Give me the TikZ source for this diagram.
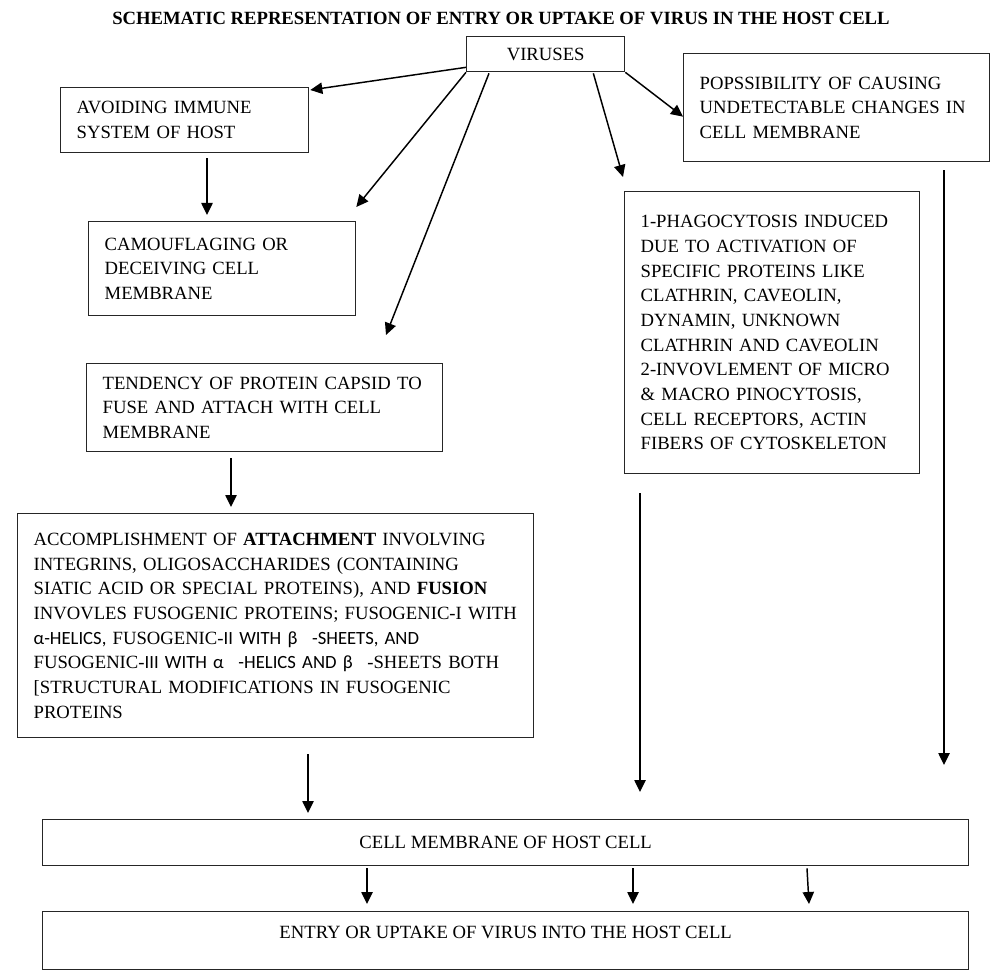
\documentclass[tikz,border=0pt]{standalone}
\usepackage{fontspec}
\setmainfont{Liberation Serif}
\newfontfamily\calfont{Carlito}
\usetikzlibrary{arrows.meta,calc}

\begin{document}
\begin{tikzpicture}
    [x=0.75pt,y=-0.75pt,
     every node/.style={font=\fontsize{14}{18.5}\selectfont},
     txtbox/.style={draw=black!85,line width=1pt,anchor=north west,align=left,inner xsep=12pt,inner ysep=4pt},
     arr/.style={-{Triangle[length=9pt,width=8.5pt]},line width=1.1pt}]
    \useasboundingbox (0,0) rectangle (1000,977);

    \node[anchor=base,font=\fontsize{14}{18.5}\selectfont\bfseries] (title) at (501,25)
        {SCHEMATIC REPRESENTATION OF ENTRY OR UPTAKE OF VIRUS IN THE HOST CELL};

    % top row
    \node[txtbox,minimum width=118.5pt,minimum height=26.25pt,align=center] (virus) at (466,36) {VIRUSES};
    \node[txtbox,text width=162pt,minimum height=48.75pt] (avoid) at (60,87)
        {AVOIDING IMMUNE\\SYSTEM OF HOST};
    \node[txtbox,text width=205.5pt,minimum height=81pt] (popss) at (683,53)
        {POPSSIBILITY OF CAUSING\\UNDETECTABLE CHANGES IN\\CELL MEMBRANE\par\vspace*{12pt}};

    % middle
    \node[txtbox,text width=176.25pt,minimum height=70.5pt] (camo) at (88,221)
        {CAMOUFLAGING OR\\DECEIVING CELL\\MEMBRANE};
    \node[txtbox,text width=197.25pt,minimum height=211.5pt] (phago) at (624,191)
        {1-PHAGOCYTOSIS INDUCED\\DUE TO ACTIVATION OF\\SPECIFIC PROTEINS LIKE\\CLATHRIN, CAVEOLIN,\\
         DYNAMIN, UNKNOWN\\CLATHRIN AND CAVEOLIN\\2-INVOVLEMENT OF MICRO\\\& MACRO PINOCYTOSIS,\\
         CELL RECEPTORS, ACTIN\\FIBERS OF CYTOSKELETON\par\vspace*{14.25pt}};
    \node[txtbox,text width=243pt,minimum height=66pt] (tend) at (86,363)
        {TENDENCY OF PROTEIN CAPSID TO\\FUSE AND ATTACH WITH CELL\\MEMBRANE\par\vspace*{4.5pt}};
    \node[txtbox,text width=363pt,minimum height=168pt] (attach) at (17,513)
        {ACCOMPLISHMENT OF \textbf{ATTACHMENT} INVOLVING\\
         INTEGRINS, OLIGOSACCHARIDES (CONTAINING\\
         SIATIC ACID OR SPECIAL PROTEINS), AND \textbf{FUSION}\\
         INVOVLES FUSOGENIC PROTEINS; FUSOGENIC-I WITH\\
         {\calfont α-HELICS,} FUSOGENIC-{\calfont II WITH β\hspace{11pt}-SHEETS, AND}\\
         FUSOGENIC-{\calfont III WITH α\hspace{11pt}-HELICS AND β}\hspace{11pt}-SHEETS BOTH\\
         {[}STRUCTURAL MODIFICATIONS IN FUSOGENIC\\
         PROTEINS\par\vspace*{6.75pt}};

    % bottom
    \node[txtbox,minimum width=694.5pt,minimum height=34.5pt,align=center] (memb) at (42,819)
        {CELL MEMBRANE OF HOST CELL};
    \node[txtbox,minimum width=694.5pt,minimum height=43.5pt,text depth=13.2pt] (entry) at (42,911)
        {ENTRY OR UPTAKE OF VIRUS INTO THE HOST CELL};

    % loose arrow ends
    \coordinate (tendin) at ($(tend.north west)+(300,-28)$);
    \coordinate (phagoin) at ($(phago.north west)+(-1,-14)$);
    \coordinate (phagoout) at ($(phago.south west)+(16,19)$);
    \coordinate (popssout) at ($(popss.south west)+(261,8)$);

    \draw[arr] ($(virus.south west)+(0,-5)$) -- ($(avoid.north east)+(1,3)$);
    \draw[arr] (virus.south west) -- ($(camo.north east)+(0,-14)$);
    \draw[arr] ($(virus.south west)+(23,1)$) -- (tendin);
    \draw[arr] ($(virus.south east)+(-32,1)$) -- (phagoin);
    \draw[arr] (virus.south east) -- ($(popss.west)+(0,9)$);

    \draw[arr] ($(avoid.south west)+(147,5)$) -- ($(camo.north west)+(119,-6)$);
    \draw[arr] ($(tend.south west)+(145,6)$) -- ($(attach.north west)+(214,-6)$);
    \draw[arr] ($(attach.south west)+(291,16)$) -- ($(memb.north west)+(266,-6)$);
    \draw[arr] (phagoout) -- ($(memb.north west)+(598,-27)$);
    \draw[arr] (popssout) -- ($(memb.north west)+(902,-54)$);

    \foreach \from/\to in {325/325, 591/591, 765/767}
    \draw[arr] ($(memb.south west)+(\from,2)$) -- ($(entry.north west)+(\to,-7)$);
\end{tikzpicture}
\end{document}
